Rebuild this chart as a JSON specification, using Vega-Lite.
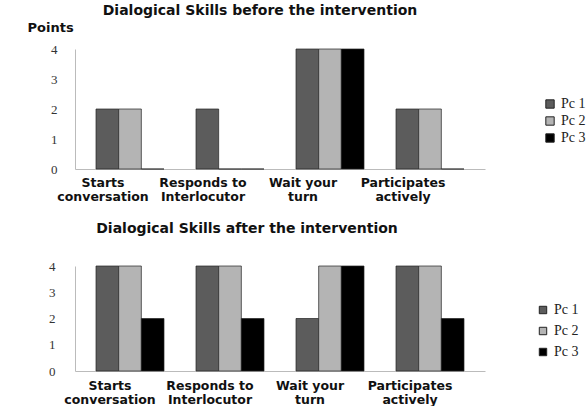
{
  "$schema": "https://vega.github.io/schema/vega-lite/v6.json",
  "background": "white",
  "padding": {"left": 27, "top": 4, "right": 0, "bottom": 0},
  "config": {
    "view": {"stroke": null},
    "axis": {"grid": false, "ticks": false},
    "title": {"font": "DejaVu Sans", "fontWeight": "bold", "fontSize": 14, "color": "#111"}
  },
  "spacing": 19,
  "resolve": {"scale": {"color": "independent"}},
  "vconcat": [
    {
      "title": {"text": "Dialogical Skills before the intervention", "anchor": "middle", "frame": "group", "dx": -20, "offset": 3},
      "width": 410,
      "height": 120,
      "data": {"values": [
        {"skill": "Starts conversation", "pc": "Pc 1", "points": 2},
        {"skill": "Starts conversation", "pc": "Pc 2", "points": 2},
        {"skill": "Starts conversation", "pc": "Pc 3", "points": 0},
        {"skill": "Responds to Interlocutor", "pc": "Pc 1", "points": 2},
        {"skill": "Responds to Interlocutor", "pc": "Pc 2", "points": 0},
        {"skill": "Responds to Interlocutor", "pc": "Pc 3", "points": 0},
        {"skill": "Wait your turn", "pc": "Pc 1", "points": 4},
        {"skill": "Wait your turn", "pc": "Pc 2", "points": 4},
        {"skill": "Wait your turn", "pc": "Pc 3", "points": 4},
        {"skill": "Participates actively", "pc": "Pc 1", "points": 2},
        {"skill": "Participates actively", "pc": "Pc 2", "points": 2},
        {"skill": "Participates actively", "pc": "Pc 3", "points": 0}
      ]},
      "mark": {"type": "bar", "stroke": "#222", "strokeWidth": 0.7},
      "encoding": {
        "x": {
          "field": "skill", "type": "nominal",
          "sort": ["Starts conversation", "Responds to Interlocutor", "Wait your turn", "Participates actively"],
          "scale": {"paddingInner": 0.32, "paddingOuter": 0.21},
          "axis": {
            "title": null, "labelAngle": 0, "labelFont": "DejaVu Sans", "labelFontWeight": "bold", "labelFontSize": 12.5,
            "labelColor": "#111", "labelPadding": 7, "labelOffset": -27, "labelLineHeight": 14,
            "domainColor": "#bbb",
            "labelExpr": "datum.value == 'Responds to Interlocutor' ? ['Responds to', 'Interlocutor'] : datum.value == 'Wait your turn' ? ['Wait your', 'turn'] : split(datum.value, ' ')"
          }
        },
        "xOffset": {"field": "pc", "type": "nominal", "sort": ["Pc 1", "Pc 2", "Pc 3"]},
        "y": {
          "field": "points", "type": "quantitative", "scale": {"domain": [0, 4]},
          "axis": {
            "values": [0, 1, 2, 3, 4], "labelFont": "Liberation Serif", "labelFontSize": 13, "labelColor": "#333",
            "labelPadding": 18, "domainColor": "#bbb",
            "title": "Points", "titleAngle": 0, "titleFont": "DejaVu Sans", "titleFontWeight": "bold", "titleFontSize": 13,
            "titleColor": "#111", "titleX": -48, "titleY": -22, "titleAlign": "left", "titleBaseline": "middle"
          }
        },
        "color": {
          "field": "pc", "type": "nominal",
          "scale": {"domain": ["Pc 1", "Pc 2", "Pc 3"], "range": ["#5c5c5c", "#b4b4b4", "#000000"]},
          "legend": {
            "title": null, "orient": "none", "legendX": 468, "legendY": 48,
            "symbolType": "square", "symbolSize": 70, "symbolStrokeColor": "#222", "symbolStrokeWidth": 1,
            "labelFont": "Liberation Serif", "labelFontSize": 14, "labelColor": "#222", "rowPadding": 3
          }
        }
      }
    },
    {
      "title": {"text": "Dialogical Skills after the intervention", "anchor": "middle", "frame": "group", "dx": -33, "offset": 24},
      "width": 410,
      "height": 105,
      "data": {"values": [
        {"skill": "Starts conversation", "pc": "Pc 1", "points": 4},
        {"skill": "Starts conversation", "pc": "Pc 2", "points": 4},
        {"skill": "Starts conversation", "pc": "Pc 3", "points": 2},
        {"skill": "Responds to Interlocutor", "pc": "Pc 1", "points": 4},
        {"skill": "Responds to Interlocutor", "pc": "Pc 2", "points": 4},
        {"skill": "Responds to Interlocutor", "pc": "Pc 3", "points": 2},
        {"skill": "Wait your turn", "pc": "Pc 1", "points": 2},
        {"skill": "Wait your turn", "pc": "Pc 2", "points": 4},
        {"skill": "Wait your turn", "pc": "Pc 3", "points": 4},
        {"skill": "Participates actively", "pc": "Pc 1", "points": 4},
        {"skill": "Participates actively", "pc": "Pc 2", "points": 4},
        {"skill": "Participates actively", "pc": "Pc 3", "points": 2}
      ]},
      "mark": {"type": "bar", "stroke": "#222", "strokeWidth": 0.7},
      "encoding": {
        "x": {
          "field": "skill", "type": "nominal",
          "sort": ["Starts conversation", "Responds to Interlocutor", "Wait your turn", "Participates actively"],
          "scale": {"paddingInner": 0.32, "paddingOuter": 0.21},
          "axis": {
            "title": null, "labelAngle": 0, "labelFont": "DejaVu Sans", "labelFontWeight": "bold", "labelFontSize": 12.5,
            "labelColor": "#111", "labelPadding": 8, "labelOffset": -20, "labelLineHeight": 14,
            "domainColor": "#bbb",
            "labelExpr": "datum.value == 'Responds to Interlocutor' ? ['Responds to', 'Interlocutor'] : datum.value == 'Wait your turn' ? ['Wait your', 'turn'] : split(datum.value, ' ')"
          }
        },
        "xOffset": {"field": "pc", "type": "nominal", "sort": ["Pc 1", "Pc 2", "Pc 3"]},
        "y": {
          "field": "points", "type": "quantitative", "scale": {"domain": [0, 4]},
          "axis": {
            "values": [0, 1, 2, 3, 4], "labelFont": "Liberation Serif", "labelFontSize": 13, "labelColor": "#333",
            "labelPadding": 20, "domainColor": "#bbb", "title": null
          }
        },
        "color": {
          "field": "pc", "type": "nominal",
          "scale": {"domain": ["Pc 1", "Pc 2", "Pc 3"], "range": ["#5c5c5c", "#b4b4b4", "#000000"]},
          "legend": {
            "title": null, "orient": "none", "legendX": 461, "legendY": 37,
            "symbolType": "square", "symbolSize": 55, "symbolStrokeColor": "#222", "symbolStrokeWidth": 1,
            "labelFont": "Liberation Serif", "labelFontSize": 14, "labelColor": "#222", "rowPadding": 7
          }
        }
      }
    }
  ]
}
